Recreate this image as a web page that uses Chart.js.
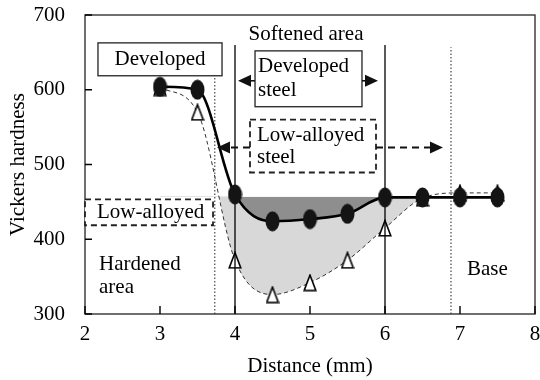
<!DOCTYPE html>
<html>
<head>
<meta charset="utf-8">
<script src="https://cdn.jsdelivr.net/npm/chart.js@4.4.0/dist/chart.umd.min.js"></script>
<style>
  html, body { margin: 0; padding: 0; background: #fff; }
</style>
</head>
<body>
<canvas id="hv" width="540" height="380"></canvas>
<script>
// Hardness profile across the weld
const distance = [3, 3.5, 4, 4.5, 5, 5.5, 6, 6.5, 7, 7.5];
const developedHv = [604, 600, 460, 424, 427, 434, 456, 456, 456, 456];
const lowAlloyedHv = [603, 570, 372, 326, 342, 372, 415, 455, 462, 462];
const baseHv = 457; // level the shaded areas are measured from

const xTicks = [2, 3, 4, 5, 6, 7, 8];
const yTicks = [300, 400, 500, 600, 700];

// zone boundaries (mm) and how high they reach (HV)
const softenedBounds = [4, 6];
const softenedTop = 660;
const hazBounds = [3.73, 6.88];
const hazTops = [643, 657];

const FONT = "'Liberation Serif', 'Times New Roman', serif";

function ellipseMarker(w, h) {
  const c = document.createElement("canvas");
  c.width = w; c.height = h;
  const g = c.getContext("2d");
  g.fillStyle = "#141414";
  g.beginPath();
  g.ellipse(w / 2, h / 2, w / 2 - 0.5, h / 2 - 0.5, 0, 0, Math.PI * 2);
  g.fill();
  return c;
}

function triangleMarker(w, h) {
  const c = document.createElement("canvas");
  c.width = w; c.height = h;
  const g = c.getContext("2d");
  g.fillStyle = "#fff";
  g.strokeStyle = "#000";
  g.lineWidth = 1.6;
  g.beginPath();
  g.moveTo(w / 2, 1.5);
  g.lineTo(w - 1.2, h - 1.2);
  g.lineTo(1.2, h - 1.2);
  g.closePath();
  g.fill();
  g.stroke();
  return c;
}

const pts = (ys) => distance.map((x, i) => ({ x, y: ys[i] }));

const vlines = [];
softenedBounds.forEach((x) => {
  vlines.push({
    data: [{ x, y: 300 }, { x, y: softenedTop }],
    borderColor: "#000", borderWidth: 1.3, pointRadius: 0, order: 1,
  });
});
hazBounds.forEach((x, i) => {
  vlines.push({
    data: [{ x, y: 300 }, { x, y: hazTops[i] }],
    borderColor: "#555", borderWidth: 1.3, borderDash: [1.5, 2],
    pointRadius: 0, order: 1,
  });
});

// labels and boxes, placed in data units
const boxes = [
  { x0: 2.173, x1: 3.827, y0: 662.7, y1: 618.7, dash: false },
  { x0: 4.267, x1: 5.693, y0: 652, y1: 577.3, dash: false },
  { x0: 4.2, x1: 5.88, y0: 560, y1: 489.3, dash: true },
  { x0: 2.0, x1: 3.707, y0: 453.3, y1: 418.7, dash: true },
];
const labels = [
  { text: "Developed", x: 3.0, y: 640, align: "center" },
  { text: "Developed", x: 4.307, y: 630.7, align: "left" },
  { text: "steel", x: 4.307, y: 598.7, align: "left" },
  { text: "Low-alloyed", x: 4.293, y: 538.7, align: "left" },
  { text: "steel", x: 4.293, y: 509.3, align: "left" },
  { text: "Low-alloyed", x: 2.16, y: 436, align: "left" },
  { text: "Hardened", x: 2.187, y: 366.7, align: "left" },
  { text: "area", x: 2.187, y: 336, align: "left" },
  { text: "Base", x: 7.093, y: 360, align: "left" },
  { text: "Softened area", x: 4.947, y: 674, align: "center" },
];
const arrows = [
  { from: 4.267, to: 4.04, y: 612, dash: false },
  { from: 5.693, to: 5.907, y: 612, dash: false },
  { from: 4.2, to: 3.76, y: 522.7, dash: true },
  { from: 5.88, to: 6.773, y: 522.7, dash: true },
];

const decor = {
  id: "decor",
  afterDatasetsDraw(chart) {
    const { ctx, chartArea: a, scales: { x, y } } = chart;
    ctx.save();
    // frame
    ctx.strokeStyle = "#333";
    ctx.lineWidth = 1.4;
    ctx.strokeRect(a.left, a.top, a.right - a.left, a.bottom - a.top);
    // inward ticks
    ctx.strokeStyle = "#000";
    ctx.lineWidth = 1.4;
    ctx.beginPath();
    xTicks.forEach((t) => {
      const px = x.getPixelForValue(t);
      ctx.moveTo(px, a.bottom);
      ctx.lineTo(px, a.bottom - 8);
    });
    yTicks.forEach((t) => {
      const py = y.getPixelForValue(t);
      ctx.moveTo(a.left, py);
      ctx.lineTo(a.left + 7, py);
    });
    ctx.stroke();

    // boxes
    boxes.forEach((b) => {
      const l = x.getPixelForValue(b.x0), r = x.getPixelForValue(b.x1);
      const t = y.getPixelForValue(b.y0), btm = y.getPixelForValue(b.y1);
      ctx.fillStyle = "#fff";
      ctx.fillRect(l, t, r - l, btm - t);
      ctx.setLineDash(b.dash ? [6, 4] : []);
      ctx.strokeStyle = "#222";
      ctx.lineWidth = b.dash ? 1.8 : 1.3;
      ctx.strokeRect(l, t, r - l, btm - t);
    });
    ctx.setLineDash([]);

    // arrows
    arrows.forEach((ar) => {
      const x0 = x.getPixelForValue(ar.from), x1 = x.getPixelForValue(ar.to);
      const py = y.getPixelForValue(ar.y);
      const dir = Math.sign(x1 - x0);
      ctx.strokeStyle = "#111";
      ctx.lineWidth = ar.dash ? 2 : 1.6;
      ctx.setLineDash(ar.dash ? [7, 5] : []);
      ctx.beginPath();
      ctx.moveTo(x0, py);
      ctx.lineTo(x1 - dir * 10, py);
      ctx.stroke();
      ctx.setLineDash([]);
      ctx.fillStyle = "#111";
      ctx.beginPath();
      ctx.moveTo(x1, py);
      ctx.lineTo(x1 - dir * 13, py - 6);
      ctx.lineTo(x1 - dir * 13, py + 6);
      ctx.closePath();
      ctx.fill();
    });

    // text
    ctx.fillStyle = "#000";
    ctx.font = "21px " + FONT;
    ctx.textBaseline = "middle";
    labels.forEach((lb) => {
      ctx.textAlign = lb.align;
      ctx.fillText(lb.text, x.getPixelForValue(lb.x), y.getPixelForValue(lb.y));
    });
    ctx.restore();
  },
};

new Chart(document.getElementById("hv"), {
  type: "line",
  data: {
    datasets: [
      {
        data: pts(developedHv),
        borderColor: "#000",
        borderWidth: 2.6,
        cubicInterpolationMode: "monotone",
        pointStyle: ellipseMarker(15, 21),
        pointRadius: 8,
        fill: { target: { value: baseHv }, above: "rgba(0,0,0,0)", below: "#8e8e8e" },
        order: 0,
      },
      {
        data: pts(lowAlloyedHv),
        borderColor: "#333",
        borderWidth: 1,
        borderDash: [4, 3],
        cubicInterpolationMode: "monotone",
        pointStyle: triangleMarker(14, 18),
        pointRadius: 8,
        fill: { target: { value: baseHv }, above: "rgba(0,0,0,0)", below: "#d8d8d8" },
        order: 2,
      },
      ...vlines,
    ],
  },
  options: {
    responsive: false,
    animation: false,
    layout: { autoPadding: false, padding: { top: 15, right: 5, left: 0, bottom: 0 } },
    plugins: {
      legend: { display: false },
      tooltip: { enabled: false },
      filler: { drawTime: "beforeDatasetsDraw" },
    },
    scales: {
      x: {
        type: "linear",
        min: 2,
        max: 8,
        afterBuildTicks(s) { s.ticks = xTicks.map((v) => ({ value: v })); },
        afterFit(s) { s.height = 66; s.paddingLeft = 0; s.paddingRight = 0; },
        grid: { display: false },
        border: { display: false },
        ticks: { color: "#000", font: { family: FONT, size: 21 }, padding: 0 },
        title: {
          display: true,
          text: "Distance (mm)",
          color: "#000",
          font: { family: FONT, size: 21 },
          padding: { top: 0, bottom: 1 },
        },
      },
      y: {
        min: 300,
        max: 700,
        afterBuildTicks(s) { s.ticks = yTicks.map((v) => ({ value: v })); },
        afterFit(s) { s.width = 85; s.paddingTop = 0; s.paddingBottom = 0; },
        grid: { display: false },
        border: { display: false },
        ticks: { color: "#000", font: { family: FONT, size: 21 }, padding: 12 },
        title: {
          display: true,
          text: "Vickers hardness",
          color: "#000",
          font: { family: FONT, size: 21 },
          padding: { top: 6, bottom: 0 },
        },
      },
    },
  },
  plugins: [decor],
});
</script>
</body>
</html>
